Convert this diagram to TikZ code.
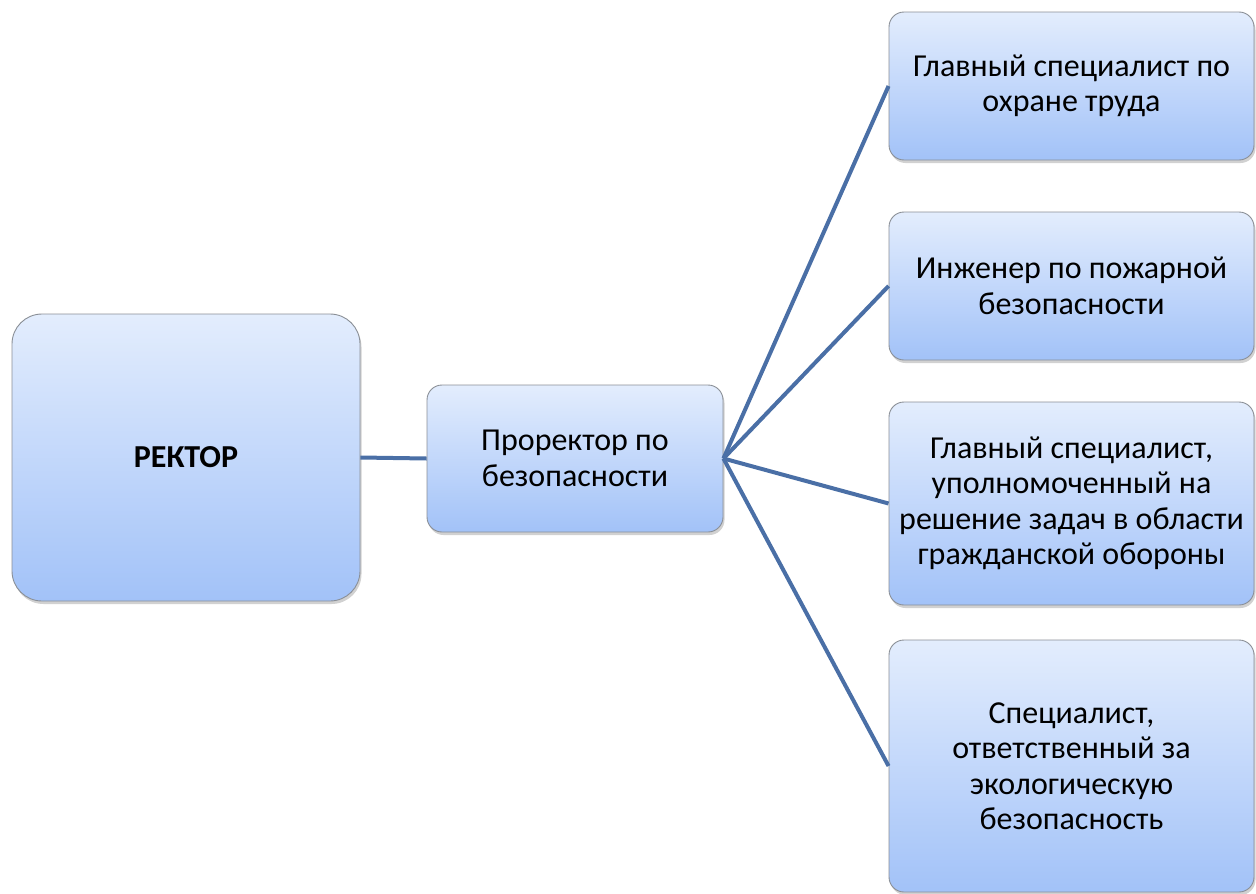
\documentclass[tikz,border=0pt]{standalone}
\usepackage{fontspec}
\setmainfont{Carlito}
\usetikzlibrary{shadows}
\definecolor{topc}{HTML}{E3EDFD}
\definecolor{botc}{HTML}{A2C2F8}
\definecolor{linec}{HTML}{4A6FA6}
\definecolor{edgec}{HTML}{8A8F96}
\tikzset{
  boxstyle/.style={draw=edgec, line width=0.9pt, top color=topc, bottom color=botc,
    rounded corners=15pt, align=center, inner sep=0pt,
    font=\fontsize{32}{35.5}\selectfont,
    drop shadow={shadow xshift=1.5pt, shadow yshift=-3pt, opacity=0.3, fill=black!60}},
  conn/.style={draw=linec, line width=4pt}
}
\begin{document}
\begin{tikzpicture}[x=1pt,y=-1pt]
\useasboundingbox (0,0) rectangle (1256,894);
\node[boxstyle, rounded corners=30pt, minimum width=348pt, minimum height=287pt] (rector) at (186,457.5) {\bfseries РЕКТОР};
\node[boxstyle, minimum width=296pt, minimum height=147pt] (pr) at (575,458.5) {Проректор по\\безопасности};
\node[boxstyle, minimum width=365pt, minimum height=148pt] (b1) at (1071.5,86) {Главный специалист по\\охране труда};
\node[boxstyle, minimum width=365pt, minimum height=148pt] (b2) at (1071.5,286) {Инженер по пожарной\\безопасности};
\node[boxstyle, minimum width=365pt, minimum height=203pt] (b3) at (1071.5,503.5) {Главный специалист,\\уполномоченный на\\решение задач в области\\гражданской обороны};
\node[boxstyle, minimum width=365pt, minimum height=252pt] (b4) at (1071.5,766) {Специалист,\\ответственный за\\экологическую\\безопасность};
\draw[conn] (rector.east) -- (pr.west);
\draw[conn] (pr.east) -- (b1.west);
\draw[conn] (pr.east) -- (b2.west);
\draw[conn] (pr.east) -- (b3.west);
\draw[conn] (pr.east) -- (b4.west);
\end{tikzpicture}
\end{document}
